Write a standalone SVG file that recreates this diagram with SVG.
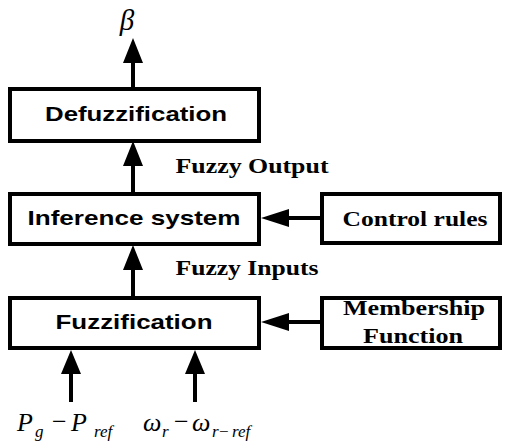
<svg xmlns="http://www.w3.org/2000/svg" width="505" height="443" viewBox="0 0 505 443">
<style>
.box{fill:#fff;stroke:#000;stroke-width:4}
.sans{font-family:"Liberation Sans",Arial,sans-serif;font-weight:bold;font-size:21px;text-anchor:middle}
.serif{font-family:"Liberation Serif","Times New Roman",serif;font-weight:bold;font-size:20px;text-anchor:middle}
.math{font-family:"Liberation Serif","Times New Roman",serif;font-style:italic}
.ln{stroke:#000;stroke-width:4;fill:none}
</style>
<g id="connectors">
<line class="ln" x1="133" y1="89" x2="133" y2="60"/>
<polygon points="133,38 123,63 143,63"/>
<line class="ln" x1="133" y1="194" x2="133" y2="162"/>
<polygon points="133,141 123,166 143,166"/>
<line class="ln" x1="133" y1="298" x2="133" y2="266"/>
<polygon points="133,245 123,270 143,270"/>
<line class="ln" x1="322" y1="218" x2="286" y2="218"/>
<polygon points="261,218 289,209 289,227"/>
<line class="ln" x1="322" y1="322" x2="286" y2="322"/>
<polygon points="261,322 289,313 289,331"/>
<line class="ln" x1="71" y1="402" x2="71" y2="370"/>
<polygon points="71,350 61,374 81,374"/>
<line class="ln" x1="195" y1="402" x2="195" y2="370"/>
<polygon points="195,350 185,374 205,374"/>
</g>
<g id="defuzzification">
<rect class="box" x="10" y="89" width="249" height="52"/>
<text class="sans" x="136" y="121" textLength="182" lengthAdjust="spacingAndGlyphs">Defuzzification</text>
</g>
<g id="inference">
<rect class="box" x="10" y="194" width="249" height="50"/>
<text class="sans" x="134" y="225" textLength="213" lengthAdjust="spacingAndGlyphs">Inference system</text>
</g>
<g id="fuzzification">
<rect class="box" x="10" y="298" width="249" height="50"/>
<text class="sans" x="134" y="329" textLength="157" lengthAdjust="spacingAndGlyphs">Fuzzification</text>
</g>
<g id="control-rules">
<rect class="box" x="322" y="194" width="178" height="49"/>
<text class="serif" x="415" y="226" textLength="145" lengthAdjust="spacingAndGlyphs">Control rules</text>
</g>
<g id="membership">
<rect class="box" x="322" y="298" width="178" height="50"/>
<text class="serif" x="414" y="315" textLength="142" lengthAdjust="spacingAndGlyphs">Membership</text>
<text class="serif" x="413" y="343" textLength="100" lengthAdjust="spacingAndGlyphs">Function</text>
</g>
<g id="labels">
<text class="serif" x="252" y="173" font-size="19" textLength="153" lengthAdjust="spacingAndGlyphs">Fuzzy Output</text>
<text class="serif" x="247" y="275" font-size="19" textLength="143" lengthAdjust="spacingAndGlyphs">Fuzzy Inputs</text>
<text class="math" x="127" y="30" font-size="29" text-anchor="middle">β</text>
<text class="math" font-size="26"><tspan x="17" y="431">P</tspan><tspan x="35" y="437" font-size="17">g</tspan><tspan x="52" y="430" font-style="normal">−</tspan><tspan x="71" y="431">P</tspan><tspan x="94" y="437" font-size="17">ref</tspan><tspan x="143" y="431">ω</tspan><tspan x="162" y="437" font-size="17">r</tspan><tspan x="174" y="430" font-style="normal">−</tspan><tspan x="192" y="431">ω</tspan><tspan x="212" y="437" font-size="17">r</tspan><tspan x="219" y="437" font-size="17" font-style="normal">−</tspan><tspan x="232" y="437" font-size="17">ref</tspan></text>
</g>
</svg>
